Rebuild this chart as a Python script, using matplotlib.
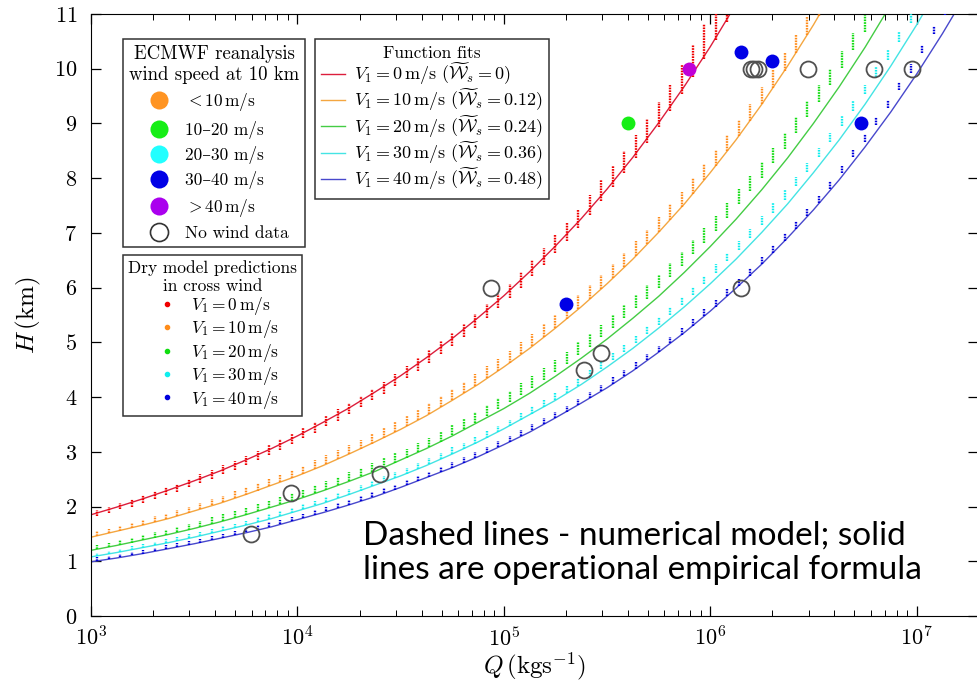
import matplotlib
matplotlib.use("Agg")
import matplotlib.pyplot as plt
from matplotlib.lines import Line2D
import numpy as np

plt.rcParams['font.family'] = ['cmr10', 'DejaVu Serif']
plt.rcParams['mathtext.fontset'] = 'cm'
plt.rcParams['axes.unicode_minus'] = False
plt.rcParams['axes.formatter.use_mathtext'] = True

# ---- function fits: log10(Q) and H (km) ----
fit_logq = [3.0, 3.125, 3.25, 3.375, 3.5, 3.625, 3.75, 3.875, 4.0, 4.125, 4.25, 4.375,
            4.5, 4.625, 4.75, 4.875, 5.0, 5.125, 5.25, 5.375, 5.5, 5.625, 5.75, 5.875,
            6.0, 6.125, 6.25, 6.375, 6.5, 6.625, 6.75, 6.875, 7.0, 7.125, 7.25]
fit_v0 = [1.85, 1.99, 2.14, 2.30, 2.47, 2.65, 2.85, 3.06, 3.29, 3.54, 3.80, 4.09,
          4.39, 4.72, 5.07, 5.45, 5.85, 6.29, 6.76, 7.26, 7.80, 8.38, 9.01, 9.68,
          10.40, 11.18]
fit_v10 = [1.44, 1.55, 1.66, 1.78, 1.92, 2.06, 2.22, 2.39, 2.56, 2.75, 2.96, 3.18,
           3.41, 3.66, 3.94, 4.23, 4.55, 4.89, 5.26, 5.65, 6.07, 6.52, 7.01, 7.53,
           8.10, 8.70, 9.35, 10.05, 10.80, 11.61]
fit_v20 = [1.20, 1.29, 1.39, 1.49, 1.60, 1.72, 1.85, 1.99, 2.13, 2.29, 2.46, 2.64,
           2.85, 3.06, 3.29, 3.54, 3.79, 4.07, 4.38, 4.71, 5.06, 5.44, 5.84, 6.28,
           6.75, 7.25, 7.79, 8.37, 9.00, 9.67, 10.39, 11.17]
fit_v30 = [1.08, 1.16, 1.25, 1.34, 1.44, 1.55, 1.66, 1.78, 1.92, 2.06, 2.22, 2.39,
           2.56, 2.75, 2.96, 3.18, 3.42, 3.68, 3.94, 4.23, 4.55, 4.89, 5.26, 5.65,
           6.07, 6.52, 7.01, 7.53, 8.10, 8.70, 9.35, 10.05, 10.80, 11.61]
fit_v40 = [0.99, 1.06, 1.14, 1.23, 1.32, 1.42, 1.52, 1.63, 1.76, 1.89, 2.03, 2.18,
           2.35, 2.53, 2.71, 2.91, 3.13, 3.36, 3.62, 3.89, 4.17, 4.48, 4.82, 5.18,
           5.57, 5.99, 6.43, 6.91, 7.42, 7.97, 8.57, 9.21, 9.90, 10.64, 11.43]

# ---- dry model predictions: log10(Q) of each run column, bottom / top of the dotted stack ----
model_logq = [3.030, 3.086, 3.141, 3.197, 3.252, 3.308, 3.363, 3.419, 3.474, 3.530,
              3.585, 3.641, 3.696, 3.752, 3.807, 3.863, 3.918, 3.974, 4.029, 4.085,
              4.140, 4.196, 4.251, 4.307, 4.362, 4.418, 4.473, 4.529, 4.584, 4.640,
              4.695, 4.751, 4.806, 4.862, 4.917, 4.973, 5.028, 5.084, 5.139, 5.195,
              5.250, 5.306, 5.361, 5.417, 5.472, 5.528, 5.583, 5.639, 5.694, 5.750,
              5.805, 5.861, 5.916, 5.972, 6.027, 6.083, 6.138, 6.194, 6.249, 6.305,
              6.360, 6.416, 6.471, 6.527, 6.582, 6.638, 6.693, 6.749, 6.804, 6.860,
              6.915, 6.971, 7.026, 7.082, 7.137]

red_lo = [1.82, 1.88, 1.95, 2.00, 2.07, 2.14, 2.21, 2.27, 2.35, 2.43,
          2.51, 2.60, 2.67, 2.76, 2.85, 2.95, 3.04, 3.14, 3.25, 3.35,
          3.47, 3.57, 3.69, 3.81, 3.94, 4.06, 4.20, 4.34, 4.48, 4.63,
          4.78, 4.94, 5.10, 5.27, 5.44, 5.62, 5.81, 6.00, 6.21, 6.41,
          6.64, 6.86, 7.09, 7.33, 7.58, 7.83, 8.09, 8.36, 8.64, 8.93,
          9.23, 9.53, 9.85, 10.17, 10.52, 10.86]
red_hi = [1.94, 2.00, 2.07, 2.14, 2.21, 2.28, 2.35, 2.42, 2.50, 2.59,
          2.67, 2.76, 2.84, 2.93, 3.02, 3.12, 3.23, 3.33, 3.44, 3.54,
          3.66, 3.78, 3.90, 4.02, 4.15, 4.28, 4.42, 4.56, 4.71, 4.86,
          5.02, 5.18, 5.34, 5.52, 5.70, 5.88, 6.07, 6.28, 6.50, 6.72,
          6.96, 7.20, 7.44, 7.70, 7.96, 8.23, 8.50, 8.79, 9.08, 9.39,
          9.70, 10.06, 10.43, 10.81, 11.21, 11.61]

orange_lo = [1.47, 1.51, 1.56, 1.61, 1.66, 1.72, 1.77, 1.83, 1.89, 1.95,
             2.02, 2.08, 2.15, 2.22, 2.29, 2.37, 2.44, 2.52, 2.60, 2.69,
             2.78, 2.87, 2.96, 3.05, 3.15, 3.26, 3.36, 3.47, 3.58, 3.70,
             3.82, 3.94, 4.07, 4.21, 4.34, 4.48, 4.63, 4.78, 4.93, 5.09,
             5.26, 5.43, 5.61, 5.79, 5.98, 6.17, 6.37, 6.58, 6.79, 7.01,
             7.24, 7.47, 7.72, 7.97, 8.22, 8.49, 8.77, 9.05, 9.35, 9.65,
             9.96, 10.29, 10.62, 10.96]
orange_hi = [1.55, 1.59, 1.65, 1.70, 1.76, 1.82, 1.87, 1.94, 2.00, 2.07,
             2.14, 2.20, 2.28, 2.35, 2.43, 2.51, 2.58, 2.67, 2.75, 2.85,
             2.94, 3.03, 3.13, 3.22, 3.33, 3.44, 3.54, 3.66, 3.77, 3.90,
             4.02, 4.14, 4.28, 4.42, 4.56, 4.70, 4.85, 5.01, 5.16, 5.33,
             5.50, 5.67, 5.86, 6.04, 6.24, 6.43, 6.63, 6.85, 7.06, 7.29,
             7.52, 7.75, 8.01, 8.26, 8.52, 8.79, 9.07, 9.36, 9.66, 9.97,
             10.28, 10.61, 10.95, 11.30]

green_lo = [1.22, 1.26, 1.30, 1.34, 1.39, 1.43, 1.48, 1.53, 1.58, 1.63,
            1.68, 1.74, 1.79, 1.85, 1.91, 1.97, 2.04, 2.10, 2.17, 2.24,
            2.31, 2.39, 2.47, 2.55, 2.63, 2.71, 2.80, 2.89, 2.99, 3.08,
            3.18, 3.30, 3.41, 3.52, 3.65, 3.78, 3.91, 4.04, 4.17, 4.31,
            4.46, 4.61, 4.77, 4.92, 5.09, 5.26, 5.44, 5.62, 5.80, 5.99,
            6.19, 6.40, 6.61, 6.82, 7.04, 7.28, 7.52, 7.76, 8.01, 8.27,
            8.54, 8.82, 9.11, 9.40, 9.70, 10.02, 10.35, 10.68, 11.02]
green_hi = [1.30, 1.34, 1.39, 1.43, 1.48, 1.53, 1.58, 1.63, 1.69, 1.74,
            1.80, 1.86, 1.91, 1.98, 2.04, 2.10, 2.18, 2.24, 2.31, 2.39,
            2.46, 2.54, 2.63, 2.71, 2.79, 2.88, 2.97, 3.06, 3.17, 3.26,
            3.37, 3.49, 3.60, 3.72, 3.85, 3.98, 4.12, 4.25, 4.38, 4.53,
            4.68, 4.83, 5.00, 5.15, 5.32, 5.50, 5.68, 5.86, 6.05, 6.24,
            6.45, 6.66, 6.87, 7.09, 7.31, 7.55, 7.80, 8.04, 8.29, 8.56,
            8.83, 9.11, 9.41, 9.70, 10.00, 10.33, 10.66, 10.99, 11.34]

cyan_lo = [1.10, 1.13, 1.17, 1.21, 1.25, 1.29, 1.33, 1.37, 1.42, 1.47,
           1.51, 1.56, 1.61, 1.66, 1.72, 1.77, 1.83, 1.89, 1.95, 2.02,
           2.08, 2.15, 2.22, 2.29, 2.37, 2.44, 2.52, 2.60, 2.69, 2.78,
           2.87, 2.96, 3.05, 3.15, 3.26, 3.36, 3.47, 3.58, 3.70, 3.82,
           3.94, 4.08, 4.21, 4.36, 4.51, 4.67, 4.82, 4.98, 5.15, 5.32,
           5.50, 5.68, 5.87, 6.06, 6.27, 6.48, 6.69, 6.91, 7.14, 7.37,
           7.61, 7.86, 8.11, 8.38, 8.66, 8.95, 9.23, 9.53, 9.85, 10.16,
           10.49, 10.84]
cyan_hi = [1.16, 1.19, 1.23, 1.28, 1.32, 1.36, 1.40, 1.44, 1.49, 1.54,
           1.59, 1.64, 1.69, 1.74, 1.81, 1.86, 1.92, 1.98, 2.04, 2.11,
           2.18, 2.25, 2.32, 2.39, 2.47, 2.55, 2.63, 2.71, 2.80, 2.89,
           2.98, 3.08, 3.17, 3.27, 3.38, 3.48, 3.59, 3.71, 3.83, 3.95,
           4.07, 4.21, 4.35, 4.50, 4.65, 4.81, 4.96, 5.12, 5.30, 5.47,
           5.65, 5.83, 6.02, 6.22, 6.43, 6.64, 6.85, 7.07, 7.30, 7.54,
           7.78, 8.03, 8.28, 8.55, 8.83, 9.13, 9.41, 9.71, 10.03, 10.34,
           10.67, 11.02]

blue_lo = [1.01, 1.04, 1.07, 1.11, 1.14, 1.18, 1.22, 1.26, 1.30, 1.34,
           1.39, 1.43, 1.48, 1.53, 1.58, 1.63, 1.68, 1.73, 1.79, 1.85,
           1.91, 1.97, 2.03, 2.10, 2.17, 2.24, 2.31, 2.39, 2.46, 2.54,
           2.63, 2.71, 2.80, 2.89, 2.98, 3.08, 3.18, 3.29, 3.39, 3.50,
           3.62, 3.73, 3.85, 3.98, 4.11, 4.24, 4.38, 4.52, 4.67, 4.82,
           4.98, 5.14, 5.30, 5.48, 5.65, 5.84, 6.03, 6.22, 6.43, 6.63,
           6.85, 7.07, 7.30, 7.54, 7.81, 8.09, 8.38, 8.67, 8.97, 9.28,
           9.61, 9.93, 10.28, 10.63, 10.99]
blue_hi = [1.07, 1.10, 1.13, 1.17, 1.21, 1.25, 1.29, 1.33, 1.37, 1.41,
           1.46, 1.50, 1.56, 1.61, 1.66, 1.71, 1.76, 1.81, 1.87, 1.93,
           2.00, 2.06, 2.12, 2.19, 2.26, 2.33, 2.40, 2.49, 2.56, 2.64,
           2.73, 2.81, 2.90, 2.99, 3.08, 3.19, 3.29, 3.40, 3.50, 3.61,
           3.73, 3.84, 3.96, 4.10, 4.23, 4.36, 4.50, 4.64, 4.79, 4.94,
           5.10, 5.27, 5.43, 5.61, 5.78, 5.97, 6.16, 6.35, 6.56, 6.77,
           6.99, 7.21, 7.44, 7.68, 7.95, 8.23, 8.52, 8.81, 9.11, 9.42,
           9.76, 10.08, 10.43, 10.78, 11.14]

# ---- observed eruptions, grouped by ECMWF wind speed ----
obs_green_q = [3.98e5]
obs_green_h = [9.0]
obs_blue_q = [2.0e5, 1.41e6, 2.0e6, 5.4e6]
obs_blue_h = [5.7, 10.3, 10.15, 9.0]
obs_purple_q = [7.9e5]
obs_purple_h = [10.0]
obs_none_q = [5.96e3, 9.3e3, 2.5e4, 8.7e4, 2.45e5, 2.95e5, 1.41e6,
              1.58e6, 1.63e6, 1.70e6, 2.98e6, 6.2e6, 9.5e6]
obs_none_h = [1.5, 2.25, 2.6, 6.0, 4.5, 4.8, 6.0,
              10.0, 10.0, 10.0, 10.0, 10.0, 10.0]

wind_labels = ['$V_1 = 0\\,\\mathrm{m/s}$', '$V_1 = 10\\,\\mathrm{m/s}$',
               '$V_1 = 20\\,\\mathrm{m/s}$', '$V_1 = 30\\,\\mathrm{m/s}$',
               '$V_1 = 40\\,\\mathrm{m/s}$']
ws_labels = ['0', '0.12', '0.24', '0.36', '0.48']
ecmwf_labels = ['$<10\\,\\mathrm{m/s}$', '10–20 m/s', '20–30 m/s', '30–40 m/s',
                '$>40\\,\\mathrm{m/s}$', 'No wind data']

fit_colors = ['#dc1e3c', '#f4a640', '#44cc44', '#44e4e4', '#4848cc']
dot_colors = ['#f00000', '#ff8c1a', '#10dd10', '#10eeee', '#0000dd']
ecmwf_colors = ['#ff9422', '#16ee16', '#22ffff', '#0000e6', '#aa00ee']

fig = plt.figure(figsize=(9.78, 6.85), dpi=100)
ax = fig.add_axes([91 / 978, 69 / 685, 887 / 978, 602 / 685])
ax.set_xscale('log')

fits = [fit_v0, fit_v10, fit_v20, fit_v30, fit_v40]
for h, c in zip(fits, fit_colors):
    q = 10 ** np.array(fit_logq[:len(h)])
    ax.plot(q, h, color=c, lw=1.0, zorder=2)

stacks = [(red_lo, red_hi), (orange_lo, orange_hi), (green_lo, green_hi),
          (cyan_lo, cyan_hi), (blue_lo, blue_hi)]
for (lo, hi), c in zip(stacks, dot_colors):
    q = 10 ** np.array(model_logq[:len(lo)])
    ax.vlines(q, lo, hi, colors=c, linewidth=1.7, linestyles=(0, (0.7, 0.45)), zorder=3)

ax.plot(obs_green_q, obs_green_h, 'o', ms=10, color=ecmwf_colors[1], mec='none', zorder=5)
ax.plot(obs_blue_q, obs_blue_h, 'o', ms=10, color=ecmwf_colors[3], mec='none', zorder=5)
ax.plot(obs_purple_q, obs_purple_h, 'o', ms=10, color='#c000d8', mec='none', zorder=5)
ax.plot(obs_none_q, obs_none_h, 'o', ms=11.5, mfc='none', mec='#505050', mew=1.3, zorder=5)

ax.set_xlim(1e3, 10 ** (3 + 887 / 206.4))
ax.set_ylim(0, 11)
ax.set_yticks(range(0, 12))
ax.spines['right'].set_visible(False)
ax.tick_params(which='both', direction='in', top=True, right=True)
ax.tick_params(which='major', length=7, width=0.9, labelsize=16)
ax.tick_params(axis='y', which='major', pad=10)
ax.tick_params(axis='x', which='major', pad=7)
ax.tick_params(which='minor', length=4, width=0.7)
ax.set_xlabel('$Q\\,(\\mathrm{kg s^{-1}})$', fontsize=18, labelpad=0)
ax.set_ylabel('$H\\,(\\mathrm{km})$', fontsize=18, labelpad=8)

legkw = dict(loc='upper left', fancybox=False, framealpha=1, edgecolor='#333333',
             borderaxespad=0)

h1 = [Line2D([], [], marker='o', ls='none', ms=13, color=c, mec='none') for c in ecmwf_colors]
h1.append(Line2D([], [], marker='o', ls='none', ms=13, mfc='none', mec='#333333', mew=1.2))
leg1 = ax.legend(h1, ecmwf_labels, title='ECMWF reanalysis\nwind speed at 10 km',
                 bbox_to_anchor=(0.036, 0.958), fontsize=12.5, title_fontsize=13.5,
                 handlelength=2.2, handletextpad=0.4, labelspacing=0.42, borderpad=0.35,
                 **legkw)
leg1.get_title().set_multialignment('center')
leg1.get_frame().set_linewidth(1.1)
ax.add_artist(leg1)

h2 = [Line2D([], [], marker='.', ls='none', ms=6, color=c) for c in dot_colors]
leg2 = ax.legend(h2, wind_labels, title='Dry model predictions\nin cross wind',
                 bbox_to_anchor=(0.036, 0.600), fontsize=12.5, title_fontsize=12.5,
                 handlelength=2.4, handletextpad=0.2, labelspacing=0.08, borderpad=0.3,
                 **legkw)
leg2.get_title().set_multialignment('center')
leg2.get_frame().set_linewidth(1.1)
ax.add_artist(leg2)

h3 = [Line2D([], [], color=c, lw=1.0) for c in fit_colors]
fit_labels = [w + ' $(\\widetilde{\\mathcal{W}}_s = ' + s + ')$' for w, s in zip(wind_labels, ws_labels)]
leg3 = ax.legend(h3, fit_labels, title='Function fits', bbox_to_anchor=(0.2525, 0.958),
                 fontsize=13, title_fontsize=12.5, handlelength=1.3, handletextpad=0.5,
                 labelspacing=0.0, borderpad=0.35, **legkw)
leg3.get_frame().set_linewidth(1.1)

fig.text(363 / 978, 1 - 521 / 685,
         'Dashed lines - numerical model; solid\nlines are operational empirical formula',
         fontsize=24, family='Lato', va='top', ha='left', linespacing=1.15)

fig.savefig('out.png', dpi=100)
